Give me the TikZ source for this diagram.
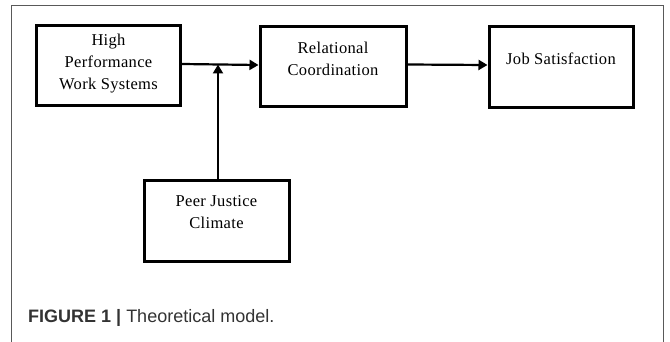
\documentclass[tikz,border=0pt]{standalone}
\usepackage{fontspec}
\setmainfont{Liberation Serif}[LetterSpace=2]
\newfontfamily\capfont{Liberation Sans}
\usetikzlibrary{arrows.meta}
\tikzset{
  box/.style={draw, line width=3pt, rectangle, inner sep=0pt},
  arr/.style={line width=2.2pt, -{Triangle[length=9pt,width=10pt]}},
  lbl/.style={align=center, font=\fontsize{16.5}{22}\selectfont, inner sep=0pt},
  frame/.style={draw=black!65, line width=1pt}
}
\begin{document}
\begin{tikzpicture}[x=1pt,y=-1pt]
\useasboundingbox (0,0) rectangle (670,342);
\fill[white] (0,0) rectangle (670,342);
\draw[frame] (11,343) -- (11,6) -- (663,6) -- (663,343);
% boxes
\node[box, minimum width=144pt, minimum height=80pt] (hpws) at (108.5,66) {};
\node[box, minimum width=146pt, minimum height=80pt] (rc) at (333,67) {};
\node[box, minimum width=144pt, minimum height=81pt] (js) at (561,67.5) {};
\node[box, minimum width=145pt, minimum height=80pt] (pjc) at (216.5,221) {};
% labels
\node[lbl] (t1) at (108.5,64) {High\\Performance\\Work Systems};
\node[lbl] (t2) at (333,59) {Relational\\Coordination};
\node[lbl] (t3) at (561,59) {Job Satisfaction};
\node[lbl] (t4) at (216.5,212) {Peer Justice\\Climate};
% connectors
\coordinate (j) at (218,64.5);
\draw[arr] ([yshift=2pt]hpws.east) -- ([yshift=2pt]rc.west);
\draw[arr] ([yshift=2.5pt]rc.east) -- ([yshift=2.5pt]js.west);
\draw[arr] (pjc.north -| j) -- (j);
% caption
\node[anchor=base west, inner sep=0pt, text=black!80, font=\capfont\fontsize{18}{20}\selectfont] (cap) at (28,322) {\textbf{FIGURE 1 |} Theoretical model.};
\end{tikzpicture}
\end{document}
